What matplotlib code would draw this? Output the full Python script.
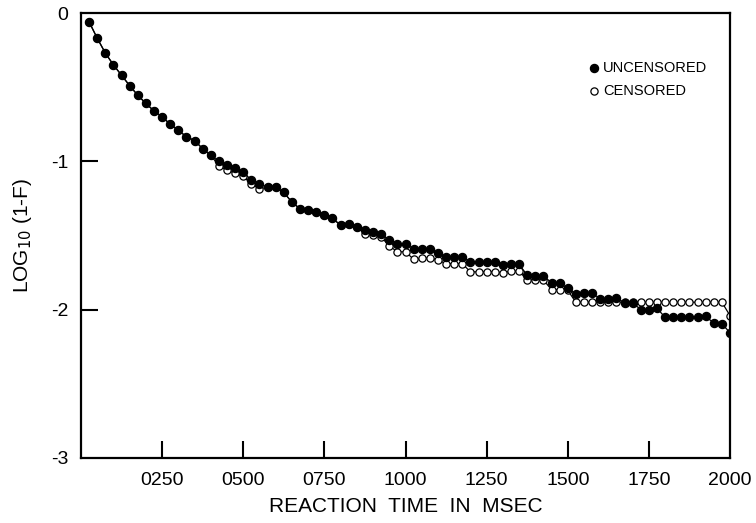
import matplotlib
matplotlib.use("Agg")
import matplotlib.pyplot as plt

# Reaction times (msec), one bin every 25 msec
rt = [25 * k for k in range(1, 81)]

uncensored = [
    -0.06, -0.17, -0.27, -0.35, -0.42, -0.49, -0.555, -0.61, -0.66, -0.70,
    -0.75, -0.79, -0.835, -0.86, -0.915, -0.96, -1.00, -1.025, -1.045, -1.075,
    -1.125, -1.15, -1.175, -1.175, -1.21, -1.275, -1.32, -1.33, -1.34, -1.36,
    -1.385, -1.43, -1.425, -1.44, -1.46, -1.475, -1.49, -1.53, -1.555, -1.555,
    -1.59, -1.59, -1.59, -1.62, -1.645, -1.645, -1.645, -1.68, -1.68, -1.68,
    -1.68, -1.70, -1.695, -1.695, -1.767, -1.77, -1.77, -1.82, -1.82, -1.857,
    -1.895, -1.89, -1.89, -1.925, -1.925, -1.92, -1.953, -1.953, -2.00, -2.00,
    -1.99, -2.052, -2.052, -2.052, -2.052, -2.052, -2.045, -2.09, -2.095, -2.155,
]

censored = [
    -0.06, -0.17, -0.27, -0.35, -0.42, -0.49, -0.555, -0.61, -0.66, -0.70,
    -0.75, -0.79, -0.835, -0.86, -0.915, -0.96, -1.03, -1.06, -1.08, -1.10,
    -1.155, -1.185, -1.175, -1.175, -1.21, -1.275, -1.32, -1.33, -1.34, -1.36,
    -1.385, -1.43, -1.425, -1.44, -1.49, -1.50, -1.51, -1.57, -1.61, -1.61,
    -1.66, -1.655, -1.65, -1.665, -1.69, -1.69, -1.69, -1.745, -1.745, -1.745,
    -1.745, -1.75, -1.74, -1.74, -1.80, -1.80, -1.80, -1.865, -1.865, -1.87,
    -1.95, -1.95, -1.95, -1.95, -1.95, -1.95, -1.95, -1.95, -1.95, -1.95,
    -1.95, -1.95, -1.95, -1.95, -1.95, -1.95, -1.95, -1.95, -1.95, -2.04,
]

xticks = [250, 500, 750, 1000, 1250, 1500, 1750, 2000]
xticklabels = ["0250", "0500", "0750", "1000", "1250", "1500", "1750", "2000"]
yticks = [0, -1, -2, -3]
yticklabels = ["0", "-1", "-2", "-3"]
series_names = ["UNCENSORED", "CENSORED"]

plt.rcParams["font.family"] = ["Liberation Sans", "DejaVu Sans"]

fig = plt.figure(figsize=(7.56, 5.23), dpi=100)
ax = fig.add_axes([81 / 756, 1 - 458 / 523, (730 - 81) / 756, (458 - 13) / 523])

open_style = dict(marker="o", ms=5.2, mfc="white", mec="black", mew=0.9)
filled_style = dict(marker="o", ms=5.8, mfc="black", mec="black")

ax.plot(rt, censored, color="black", lw=0.9, zorder=2, **open_style)
ax.plot(rt, uncensored, color="black", lw=0.9, zorder=3, **filled_style)

ax.set_xlim(0, 2000)
ax.set_ylim(-3, 0)

ax.set_xticks(xticks)
ax.set_xticklabels(xticklabels, fontsize=14)
ax.set_yticks(yticks)
ax.set_yticklabels(yticklabels, fontsize=14)
ax.tick_params(axis="x", direction="in", length=12, width=1.5, pad=10)
ax.tick_params(axis="y", direction="in", length=12, width=1.5, pad=9)
# hide tick marks that sit on the frame edges
ax.xaxis.get_major_ticks()[-1].tick1line.set_visible(False)
for t in (ax.yaxis.get_major_ticks()[0], ax.yaxis.get_major_ticks()[-1]):
    t.tick1line.set_visible(False)

for s in ax.spines.values():
    s.set_linewidth(1.6)

ax.set_xlabel("REACTION  TIME  IN  MSEC", fontsize=15, labelpad=6)
ax.set_ylabel("LOG$_{10}$ (1-F)", fontsize=15, labelpad=12)

# key in the upper right corner
key_x, text_x = 0.790, 0.804
for name, y, style in zip(series_names, (0.876, 0.825), (filled_style, open_style)):
    ax.plot([key_x], [y], transform=ax.transAxes, clip_on=False, ls="none", **style)
    ax.text(text_x, y, name, transform=ax.transAxes, fontsize=10.5,
            va="center", ha="left")

fig.savefig("out.png", dpi=100)
